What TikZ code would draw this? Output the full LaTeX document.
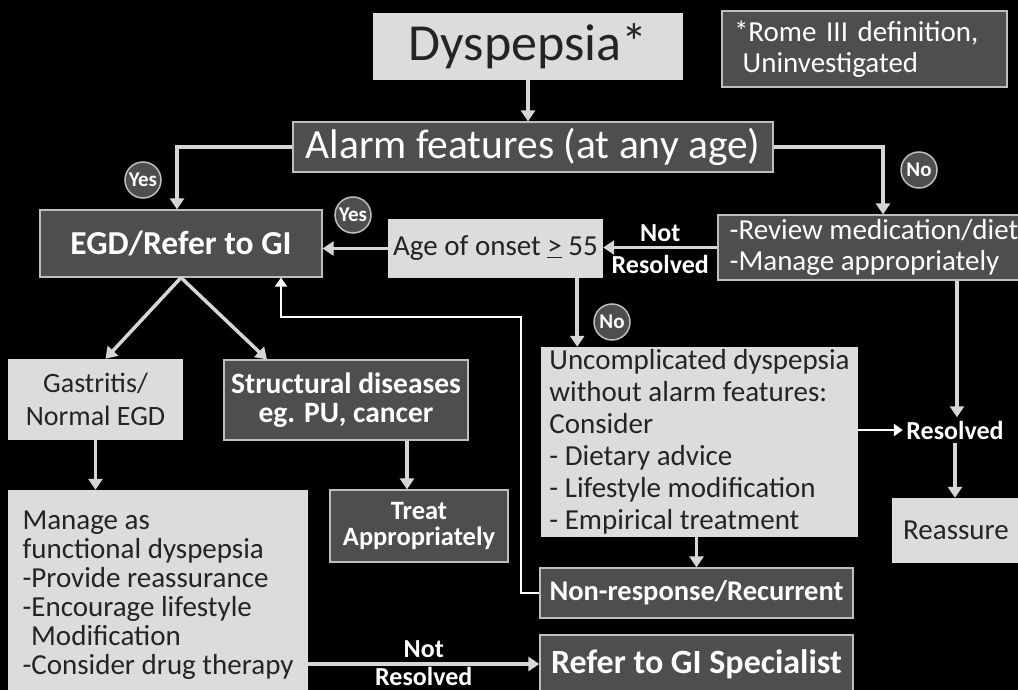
\documentclass[tikz,border=0pt]{standalone}
\usepackage{fontspec}
\setmainfont{Carlito}
\usepackage{xcolor}
\usetikzlibrary{arrows.meta}

\definecolor{paleBox}{HTML}{DCDCDC}
\definecolor{darkBox}{HTML}{4E4E4E}
\definecolor{rimGray}{HTML}{BEBEBE}
\definecolor{inkGray}{HTML}{242424}
\definecolor{wireGray}{HTML}{D6D6D6}
\newcommand{\setfs}[2]{\fontsize{#1}{#2}\selectfont\lineskiplimit=-30pt\relax}

\begin{document}
\begin{tikzpicture}[x=1pt, y=-1pt,
        pale/.style={rectangle, fill=paleBox, text=inkGray, inner sep=0pt},
        dark/.style={rectangle, fill=darkBox, draw=rimGray, line width=1.2pt, text=white, inner sep=0pt},
        tag/.style={circle, fill=darkBox, draw=rimGray, line width=1.5pt, text=white, minimum size=36pt, inner sep=0pt, font=\bfseries\setfs{21}{23}},
        note/.style={text=white, font=\bfseries\setfs{26}{28}},
        line/.style={draw=wireGray, line width=3.5pt, -{Triangle[length=11pt,width=14pt]}},
        thinline/.style={draw=white, line width=2.5pt, -{Triangle[length=9pt,width=12pt]}}
    ]
        \useasboundingbox (0,0) rectangle (1018,690);
        \fill[black] (0,0) rectangle (1018,690);

        \node [pale, minimum width=310pt, minimum height=67pt, font=\setfs{52}{56}] (dys) at (528,46.5) {Dyspepsia*};
        \node [dark, minimum width=285pt, minimum height=76pt, text width=261pt, align=left, font=\setfs{29}{31}] (rome) at (864.5,49) {*Rome III definition,\\\hspace*{0.3em}Uninvestigated};
        \node [dark, minimum width=480pt, minimum height=50pt, font=\setfs{41.5}{44}] (alarm) at (533,147) {Alarm features (at any age)};
        \node [dark, minimum width=282pt, minimum height=67pt, font=\bfseries\setfs{33.5}{36}] (egd) at (181,243.5) {EGD/Refer to GI};
        \node [pale, minimum width=215pt, minimum height=59pt, font=\setfs{29}{32}] (age) at (495.5,248.5) {Age of onset \underline{>} 55};
        \node [dark, minimum width=312pt, minimum height=65pt, align=left, font=\setfs{29}{31}] (review) at (874,247.5) {-Review medication/diet\\-Manage appropriately};
        \node [pale, minimum width=317pt, minimum height=190pt, align=left, font=\setfs{29}{32}] (uncomp) at (699.5,442) {Uncomplicated dyspepsia\\without alarm features:\\Consider\\- Dietary advice\\- Lifestyle modification\\- Empirical treatment};
        \node [note] (resolved) at (955,430) {Resolved};
        \node [pale, minimum width=128pt, minimum height=65pt, font=\setfs{29}{32}] (reassure) at (956,530.5) {Reassure};
        \node [dark, minimum width=313pt, minimum height=50pt, font=\bfseries\setfs{28.5}{30}] (nonresp) at (696.5,593) {Non-response/Recurrent};
        \node [dark, minimum width=313pt, minimum height=58pt, font=\bfseries\setfs{34}{36}] (refer) at (696.5,664) {Refer to GI Specialist};
        \node [pale, minimum width=175pt, minimum height=81pt, align=center, font=\setfs{28}{33}] (gast) at (95.5,399.5) {Gastritis/\\Normal EGD};
        \node [dark, minimum width=244pt, minimum height=80pt, align=center, font=\bfseries\setfs{29.5}{29}] (struct) at (346,400) {Structural diseases\\eg. PU, cancer};
        \node [dark, minimum width=178pt, minimum height=72pt, align=center, font=\bfseries\setfs{26.5}{26}] (treat) at (419,526) {Treat\\Appropriately};
        \node [pale, minimum width=300pt, minimum height=210pt, align=left, font=\setfs{29}{29}] (manage) at (158,595) {Manage as\\functional dyspepsia\\-Provide reassurance\\-Encourage lifestyle\\\hspace*{0.3em}Modification\\-Consider drug therapy};

        \coordinate (ageout) at ([xshift=-26pt]age.south east);
        \coordinate (revout) at ([xshift=83pt]review.south);
        \coordinate (structout) at ([xshift=61pt]struct.south);
        \coordinate (loopturn) at (521,317);
        \coordinate (egdin) at ([xshift=100pt]egd.south);

        \path [line] (dys.south) -- (dys.south |- alarm.north);
        \path [line] (alarm.west) -| ([xshift=-4pt]egd.north);
        \path [line] (alarm.east) -| ([xshift=9pt]review.north);
        \path [line] (age.west) -- (age.west -| egd.east);
        \path [line] (review.west) -- (review.west -| age.east)
            node[note, midway, above, yshift=1pt] {Not} node[note, midway, below, yshift=-3pt] {Resolved};
        \path [line] (ageout) -- (ageout |- uncomp.north);
        \path [line] (revout) -- (revout |- resolved.north);
        \path [thinline] (uncomp.east |- resolved.west) -- (resolved.west);
        \path [line] (resolved.south) -- (resolved.south |- reassure.north);
        \path [line] (uncomp.south -| nonresp.north) -- (nonresp.north);
        \path [line] (egd.south) -- ([xshift=10pt]gast.north);
        \path [line] (egd.south) -- ([xshift=-79pt]struct.north);
        \path [line] (gast.south) -- (gast.south |- manage.north);
        \path [line] (structout) -- (structout |- treat.north);
        \path [line] (manage.east |- refer.west) -- (refer.west)
            node[note, midway, above, yshift=1pt] {Not} node[note, midway, below, yshift=2pt] {Resolved};

        % Recurrent cases loop back to the endoscopy box
        \path [thinline] (nonresp.west) -| (loopturn) -| (egdin);

        \node [tag] (yesA) at (143,180) {Yes};
        \node [tag] (yesB) at (353,215) {Yes};
        \node [tag] (noA) at (919,170) {No};
        \node [tag] (noB) at (612,322) {No};
    \end{tikzpicture}
\end{document}
